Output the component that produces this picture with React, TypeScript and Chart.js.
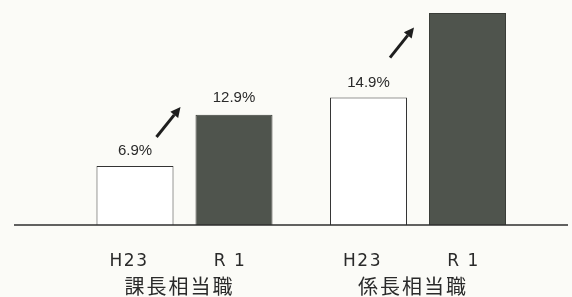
import React, { useEffect, useRef } from "react";
import { Chart, registerables } from "chart.js";

Chart.register(...registerables);

const groups = ["課長相当職", "係長相当職"];
const seriesNames = ["H23", "R 1"];
const h23Values = [6.9, 14.9];
const r1Values = [12.9, 24.8];
const h23Labels = ["6.9%", "14.9%"];
const r1Labels = ["12.9%", ""];
const arrowLift = [29, 40];

const overlay = {
  id: "overlay",
  afterDatasetsDraw(chart: any) {
    const ctx = chart.ctx;
    const m0 = chart.getDatasetMeta(0);
    const m1 = chart.getDatasetMeta(1);
    ctx.save();
    ctx.strokeStyle = "#2e2e2e";
    ctx.lineWidth = 1.5;
    ctx.beginPath();
    ctx.moveTo(14, chart.chartArea.bottom);
    ctx.lineTo(568, chart.chartArea.bottom);
    ctx.stroke();

    ctx.textAlign = "center";
    ctx.textBaseline = "middle";
    const bottom = chart.chartArea.bottom;
    groups.forEach((g, i) => {
      const b0 = m0.data[i];
      const b1 = m1.data[i];
      ctx.fillStyle = "#2a2a2a";
      ctx.font = "15px 'Liberation Sans'";
      (ctx as any).letterSpacing = "0px";
      if (h23Labels[i]) ctx.fillText(h23Labels[i], b0.x, b0.y - 15);
      if (r1Labels[i]) ctx.fillText(r1Labels[i], b1.x, b1.y - 17);
      ctx.font = "17px 'DejaVu Sans'";
      (ctx as any).letterSpacing = "1.5px";
      ctx.fillText(seriesNames[0], b0.x - 6, bottom + 37);
      ctx.fillText(seriesNames[1], b1.x - 4, bottom + 37);
      ctx.font = "20px 'Noto Sans CJK JP'";
      (ctx as any).letterSpacing = "2px";
      ctx.fillText(g, (b0.x + b1.x) / 2 - 5, bottom + 61);
      (ctx as any).letterSpacing = "0px";
      const gapMid = (b0.x + b0.width / 2 + b1.x - b1.width / 2) / 2;
      const sx = gapMid - 28;
      const sy = b0.y - arrowLift[i];
      const ex = sx + 24;
      const ey = sy - 30;
      ctx.strokeStyle = "#1e1e1e";
      ctx.fillStyle = "#1e1e1e";
      ctx.lineWidth = 3;
      const ang = Math.atan2(ey - sy, ex - sx);
      const hl = 10;
      const bx = ex - Math.cos(ang) * hl;
      const by = ey - Math.sin(ang) * hl;
      ctx.beginPath();
      ctx.moveTo(sx, sy);
      ctx.lineTo(bx, by);
      ctx.stroke();
      ctx.beginPath();
      ctx.moveTo(ex, ey);
      ctx.lineTo(bx + Math.cos(ang + Math.PI / 2) * 5, by + Math.sin(ang + Math.PI / 2) * 5);
      ctx.lineTo(bx + Math.cos(ang - Math.PI / 2) * 5, by + Math.sin(ang - Math.PI / 2) * 5);
      ctx.closePath();
      ctx.fill();
    });
    ctx.restore();
  },
};

const bg = {
  id: "bg",
  beforeDraw(chart: any) {
    const ctx = chart.ctx;
    ctx.save();
    ctx.fillStyle = "#fbfbf7";
    ctx.fillRect(0, 0, chart.width, chart.height);
    ctx.restore();
  },
};

export default function App() {
  const ref = useRef<HTMLCanvasElement>(null);
  useEffect(() => {
    if (!ref.current) return;
    const chart = new Chart(ref.current, {
      type: "bar",
      data: {
        labels: groups,
        datasets: [
          {
            label: seriesNames[0],
            data: h23Values,
            backgroundColor: "#ffffff",
            borderColor: "#333333",
            borderWidth: 1,
          },
          {
            label: seriesNames[1],
            data: r1Values,
            backgroundColor: "#4f544d",
            borderColor: "#3a3d38",
            borderWidth: 1,
          },
        ],
      },
      options: {
        animation: false,
        responsive: false,
        maintainAspectRatio: false,
        layout: { padding: { left: 67.75, right: 37.25, top: 11.25, bottom: 72 } },
        datasets: { bar: { categoryPercentage: 0.848, barPercentage: 0.778 } },
        plugins: { legend: { display: false }, tooltip: { enabled: false } },
        scales: {
          x: { display: false },
          y: { display: false, min: 0, max: 25 },
        },
      },
      plugins: [bg, overlay],
    });
    return () => chart.destroy();
  }, []);
  return (
    <div style={{ position: "absolute", left: 0, top: 0, width: 572, height: 297 }}>
      <canvas ref={ref} width={572} height={297} style={{ width: 572, height: 297 }} />
    </div>
  );
}
